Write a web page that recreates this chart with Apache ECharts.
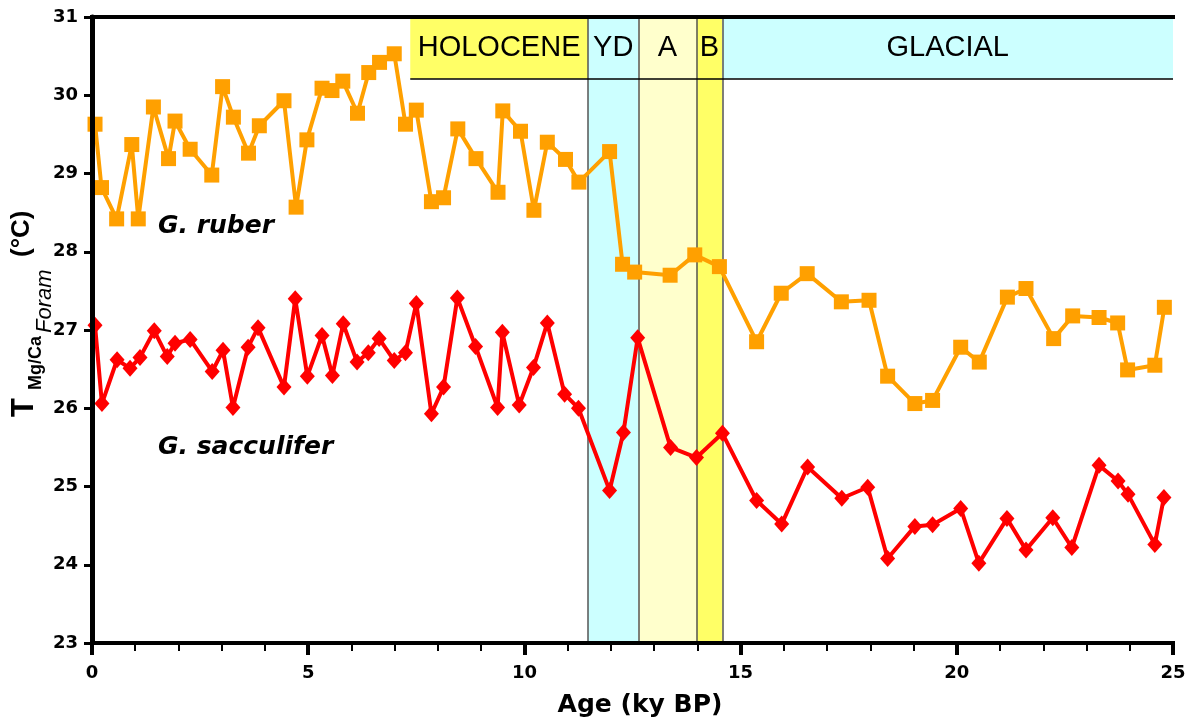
<!DOCTYPE html>
<html>
<head>
<meta charset="utf-8">
<title>Mg/Ca temperatures, G. ruber and G. sacculifer</title>
<script src="https://cdn.jsdelivr.net/npm/echarts@6/dist/echarts.min.js"></script>
<style>
  html, body { margin: 0; padding: 0; background: #fff; }
  #chart { width: 1191px; height: 720px; }
</style>
</head>
<body>
<div id="chart"></div>
<script>
// Age (ky BP) and Mg/Ca temperature (°C) for G. ruber
const ruberAge = [0.07, 0.22, 0.57, 0.92, 1.07, 1.42, 1.77, 1.92, 2.27, 2.77,
  3.02, 3.27, 3.62, 3.87, 4.44, 4.72, 4.97, 5.32, 5.55, 5.80,
  6.14, 6.40, 6.65, 6.99, 7.25, 7.50, 7.85, 8.13, 8.46, 8.88,
  9.39, 9.50, 9.91, 10.22, 10.53, 10.95, 11.26, 11.97, 12.27, 12.55,
  13.37, 13.94, 14.51, 15.37, 15.94, 16.54, 17.33, 17.97, 18.40, 19.03,
  19.44, 20.09, 20.52, 21.17, 21.60, 22.24, 22.68, 23.29, 23.72, 23.95,
  24.58, 24.80];
const ruberTemp = [29.63, 28.82, 28.42, 29.37, 28.42, 29.85, 29.19, 29.67, 29.31, 28.98,
  30.11, 29.72, 29.26, 29.61, 29.93, 28.57, 29.43, 30.09, 30.06, 30.18,
  29.77, 30.29, 30.42, 30.53, 29.63, 29.81, 28.64, 28.69, 29.57, 29.19,
  28.76, 29.80, 29.54, 28.53, 29.40, 29.18, 28.89, 29.28, 27.84, 27.74,
  27.70, 27.96, 27.81, 26.85, 27.47, 27.72, 27.36, 27.38, 26.41, 26.06,
  26.10, 26.78, 26.59, 27.42, 27.53, 26.89, 27.18, 27.16, 27.09, 26.49,
  26.55, 27.29];

// Age (ky BP) and Mg/Ca temperature (°C) for G. sacculifer
const saccAge = [0.07, 0.23, 0.58, 0.88, 1.11, 1.44, 1.74, 1.92, 2.27, 2.78,
  3.03, 3.26, 3.61, 3.84, 4.44, 4.70, 4.98, 5.32, 5.56, 5.81,
  6.13, 6.39, 6.64, 6.99, 7.25, 7.50, 7.85, 8.13, 8.45, 8.87,
  9.38, 9.49, 9.88, 10.21, 10.53, 10.93, 11.25, 11.97, 12.29, 12.62,
  13.38, 13.98, 14.58, 15.37, 15.95, 16.55, 17.34, 17.94, 18.40, 19.03,
  19.44, 20.09, 20.51, 21.16, 21.60, 22.22, 22.66, 23.29, 23.73, 23.96,
  24.58, 24.79];
const saccTemp = [27.06, 26.06, 26.62, 26.51, 26.65, 26.99, 26.66, 26.83, 26.88, 26.47,
  26.74, 26.01, 26.78, 27.03, 26.27, 27.40, 26.41, 26.93, 26.42, 27.08,
  26.59, 26.71, 26.89, 26.61, 26.71, 27.34, 25.93, 26.27, 27.41, 26.79,
  26.01, 26.97, 26.04, 26.52, 27.09, 26.18, 26.00, 24.95, 25.69, 26.90,
  25.50, 25.37, 25.68, 24.82, 24.52, 25.25, 24.85, 24.99, 24.08, 24.49,
  24.51, 24.72, 24.02, 24.59, 24.19, 24.60, 24.22, 25.27, 25.07, 24.90,
  24.26, 24.86];

// Axis ranges and steps
const ageRange = [0, 25];
const ageStep = 5;
const tempRange = [23, 31];
const tempStep = 1;

// Climate intervals (ky BP)
const periodNames = ['HOLOCENE', 'YD', 'A', 'B', 'GLACIAL'];
const periodStart = [7.36, 11.47, 12.64, 13.98, 14.58];
const periodEnd = [11.47, 12.64, 13.98, 14.58, 25];
// Which intervals are shaded over the full height of the plot
const periodFullHeight = [false, true, true, true, false];
const periodColors = ['#ffff66', '#ccffff', '#ffffcc', '#ffff66', '#ccffff'];
// Lower edge (°C) of the strip that holds the interval names
const stripFloor = 30.21;

const pairs = (xs, ys) => xs.map((x, i) => [x, ys[i]]);

const tickFont = { fontFamily: 'DejaVu Sans', fontWeight: 'bold', fontSize: 18, color: '#000' };

// Shaded areas: full-height bands plus the name strip along the top
const areas = [];
periodNames.forEach((name, i) => {
  areas.push([
    {
      xAxis: periodStart[i],
      yAxis: periodFullHeight[i] ? tempRange[0] : stripFloor,
      itemStyle: { color: periodColors[i] },
      label: { show: false }
    },
    { xAxis: periodEnd[i], yAxis: tempRange[1] }
  ]);
});
periodNames.forEach((name, i) => {
  areas.push([
    {
      name: name,
      xAxis: periodStart[i],
      yAxis: stripFloor,
      itemStyle: { color: 'rgba(0,0,0,0)' },
      label: {
        show: true, position: 'inside', color: '#000',
        fontFamily: 'Liberation Sans', fontSize: 29
      }
    },
    { xAxis: periodEnd[i], yAxis: tempRange[1] }
  ]);
});

// Boundary lines between the late-glacial intervals and the strip floor
const boundaryLines = [];
for (let i = 1; i < periodNames.length; i++) {
  boundaryLines.push([
    { coord: [periodStart[i], tempRange[0]] },
    { coord: [periodStart[i], tempRange[1]] }
  ]);
}
boundaryLines.push([
  { coord: [periodStart[0], stripFloor], lineStyle: { color: '#000', width: 1.5 } },
  { coord: [ageRange[1], stripFloor] }
]);

const chart = echarts.init(document.getElementById('chart'), null, { renderer: 'canvas' });

const frameLine = { show: true, lineStyle: { color: '#000', width: 4, cap: 'square' } };

chart.setOption({
  animation: false,
  backgroundColor: '#fff',
  grid: { left: 92, right: 18, top: 17, bottom: 77, containLabel: false },
  xAxis: [
    {
      type: 'value', position: 'bottom', min: ageRange[0], max: ageRange[1], interval: ageStep,
      z: 10,
      axisLine: frameLine,
      axisTick: { show: true, length: 12, lineStyle: { color: '#000', width: 4 } },
      minorTick: { show: true, splitNumber: 5, length: 8, lineStyle: { color: '#000', width: 2 } },
      splitLine: { show: false },
      axisLabel: Object.assign({ margin: 21 }, tickFont)
    },
    {
      type: 'value', position: 'top', min: ageRange[0], max: ageRange[1],
      z: 10,
      axisLine: frameLine,
      axisTick: { show: false }, axisLabel: { show: false }, splitLine: { show: false }
    }
  ],
  yAxis: [
    {
      type: 'value', position: 'left', min: tempRange[0], max: tempRange[1], interval: tempStep,
      z: 10,
      axisLine: frameLine,
      axisTick: { show: true, length: 8, lineStyle: { color: '#000', width: 3 } },
      splitLine: { show: false },
      axisLabel: Object.assign({ margin: 14 }, tickFont)
    },
    {
      type: 'value', position: 'right', min: tempRange[0], max: tempRange[1],
      z: 10,
      axisLine: { show: true, lineStyle: { color: '#000', width: 5 } },
      axisTick: { show: false }, axisLabel: { show: false }, splitLine: { show: false }
    }
  ],
  series: [
    {
      name: 'intervals',
      type: 'line',
      data: [],
      z: 1,
      silent: true,
      markArea: { silent: true, data: areas },
      markLine: {
        silent: true,
        symbol: 'none',
        label: { show: false },
        lineStyle: { color: '#555', width: 1.5, type: 'solid' },
        data: boundaryLines
      }
    },
    {
      name: 'G. ruber',
      type: 'line',
      data: pairs(ruberAge, ruberTemp),
      z: 5,
      symbol: 'rect',
      symbolSize: 15,
      clip: false,
      lineStyle: { color: '#ffa000', width: 4 },
      itemStyle: { color: '#ffa000' }
    },
    {
      name: 'G. sacculifer',
      type: 'line',
      data: pairs(saccAge, saccTemp),
      z: 6,
      symbol: 'diamond',
      symbolSize: [15, 17],
      clip: false,
      lineStyle: { color: '#ff0000', width: 4 },
      itemStyle: { color: '#ff0000' }
    }
  ],
  graphic: [
    {
      type: 'text', x: 158, y: 226, z: 20,
      style: {
        text: 'G. ruber', fill: '#000',
        font: 'italic bold 25px "DejaVu Sans"',
        textAlign: 'left', textVerticalAlign: 'middle'
      }
    },
    {
      type: 'text', x: 158, y: 447, z: 20,
      style: {
        text: 'G. sacculifer', fill: '#000',
        font: 'italic bold 25px "DejaVu Sans"',
        textAlign: 'left', textVerticalAlign: 'middle'
      }
    },
    {
      type: 'text', x: 640, y: 705, z: 20,
      style: {
        text: 'Age (ky BP)', fill: '#000',
        font: 'bold 25px "DejaVu Sans"',
        textAlign: 'center', textVerticalAlign: 'middle'
      }
    },
    {
      // Y axis title, written bottom to top
      type: 'group', x: 0, y: 417, rotation: Math.PI / 2, z: 20,
      children: [
        {
          type: 'text', x: 0, y: 24,
          style: { text: 'T', fill: '#000', font: 'bold 31px "Liberation Sans"',
                   textAlign: 'left', textVerticalAlign: 'middle' }
        },
        {
          type: 'text', x: 27, y: 36,
          style: { text: 'Mg/Ca', fill: '#000', font: 'bold 18px "Liberation Sans"',
                   textAlign: 'left', textVerticalAlign: 'middle' }
        },
        {
          type: 'text', x: 84, y: 45,
          style: { text: 'Foram', fill: '#000', font: 'italic 22px "Liberation Sans"',
                   textAlign: 'left', textVerticalAlign: 'middle' }
        },
        {
          type: 'text', x: 160, y: 22,
          style: { text: '(°C)', fill: '#000', font: 'bold 26px "Liberation Sans"',
                   textAlign: 'left', textVerticalAlign: 'middle' }
        }
      ]
    }
  ]
});
</script>
</body>
</html>
